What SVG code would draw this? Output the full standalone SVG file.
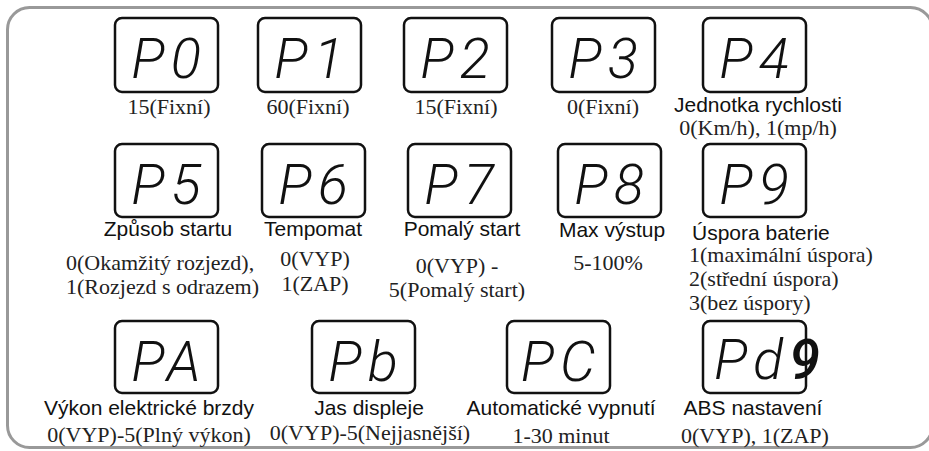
<svg xmlns="http://www.w3.org/2000/svg" width="929" height="451" viewBox="0 0 929 451">
<style>
.frame{fill:#fff;stroke:#999;stroke-width:3}
.box{fill:#fff;stroke:#111;stroke-width:2.5}
.seg{font-family:Roboto,"DejaVu Sans",sans-serif;font-style:italic;font-weight:300;font-size:56px;fill:#111;text-anchor:middle;letter-spacing:6px}
.l{font-family:"Liberation Sans",Arial,sans-serif;font-size:21px;fill:#111;text-anchor:middle}
.v{font-family:"Liberation Serif","Times New Roman",serif;font-size:22px;fill:#222;text-anchor:middle}
.s{text-anchor:start}
</style>
<rect width="929" height="451" fill="#fff"/>
<rect class="frame" x="7.5" y="7.5" width="925" height="440" rx="22"/>
<g id="connectors"/>
<g id="P0">
<rect class="box" x="115" y="18" width="103" height="74" rx="7"/>
<text class="seg" x="169" y="78">P0</text>
<text class="v" x="169" y="114">15(Fixní)</text>
</g>
<g id="P1">
<rect class="box" x="258" y="18" width="103" height="74" rx="7"/>
<text class="seg" x="312" y="78">P1</text>
<text class="v" x="308" y="114">60(Fixní)</text>
</g>
<g id="P2">
<rect class="box" x="404" y="18" width="103" height="74" rx="7"/>
<text class="seg" x="458" y="78">P2</text>
<text class="v" x="456" y="114">15(Fixní)</text>
</g>
<g id="P3">
<rect class="box" x="552" y="18" width="103" height="74" rx="7"/>
<text class="seg" x="606" y="78">P3</text>
<text class="v" x="603" y="114">0(Fixní)</text>
</g>
<g id="P4">
<rect class="box" x="703" y="18" width="103" height="74" rx="7"/>
<text class="seg" x="757" y="78">P4</text>
<text class="l" x="758" y="112">Jednotka rychlosti</text>
<text class="v" x="758" y="135">0(Km/h), 1(mp/h)</text>
</g>
<g id="P5">
<rect class="box" x="115" y="144" width="103" height="73" rx="7"/>
<text class="seg" x="169" y="204">P5</text>
<text class="l" x="168" y="236">Způsob startu</text>
<text class="v s" x="66" y="270">0(Okamžitý rozjezd),</text>
<text class="v s" x="66" y="294">1(Rozjezd s odrazem)</text>
</g>
<g id="P6">
<rect class="box" x="262" y="144" width="103" height="73" rx="7"/>
<text class="seg" x="316" y="204">P6</text>
<text class="l" x="313" y="236">Tempomat</text>
<text class="v" x="315" y="266">0(VYP)</text>
<text class="v" x="315" y="291">1(ZAP)</text>
</g>
<g id="P7">
<rect class="box" x="408" y="144" width="103" height="73" rx="7"/>
<text class="seg" x="462" y="204">P7</text>
<text class="l" x="462" y="236">Pomalý start</text>
<text class="v" x="457" y="273">0(VYP) -</text>
<text class="v" x="457" y="297">5(Pomalý start)</text>
</g>
<g id="P8">
<rect class="box" x="558" y="144" width="103" height="73" rx="7"/>
<text class="seg" x="612" y="204">P8</text>
<text class="l" x="612" y="237">Max výstup</text>
<text class="v" x="608" y="270">5-100%</text>
</g>
<g id="P9">
<rect class="box" x="703" y="144" width="103" height="73" rx="7"/>
<text class="seg" x="757" y="204">P9</text>
<text class="l s" x="692" y="240">Úspora baterie</text>
<text class="v s" x="689" y="262">1(maximální úspora)</text>
<text class="v s" x="689" y="286">2(střední úspora)</text>
<text class="v s" x="689" y="310">3(bez úspory)</text>
</g>
<g id="PA">
<rect class="box" x="115" y="321" width="103" height="72" rx="7"/>
<text class="seg" x="169" y="381">PA</text>
<text class="l" x="149" y="415">Výkon elektrické brzdy</text>
<text class="v" x="149" y="442">0(VYP)-5(Plný výkon)</text>
</g>
<g id="Pb">
<rect class="box" x="312" y="321" width="103" height="72" rx="7"/>
<text class="seg" x="366" y="381">Pb</text>
<text class="l" x="369" y="415">Jas displeje</text>
<text class="v" x="370" y="440">0(VYP)-5(Nejjasnější)</text>
</g>
<g id="PC">
<rect class="box" x="507" y="321" width="103" height="72" rx="7"/>
<text class="seg" x="561" y="381">PC</text>
<text class="l" x="561" y="415">Automatické vypnutí</text>
<text class="v" x="561" y="443">1-30 minut</text>
</g>
<g id="Pd">
<rect class="box" x="703" y="321" width="103" height="72" rx="7"/>
<text class="seg" x="770" y="379">Pd<tspan font-weight="500">9</tspan></text>
<text class="l" x="753" y="415">ABS nastavení</text>
<text class="v" x="755" y="443">0(VYP), 1(ZAP)</text>
</g>
</svg>
